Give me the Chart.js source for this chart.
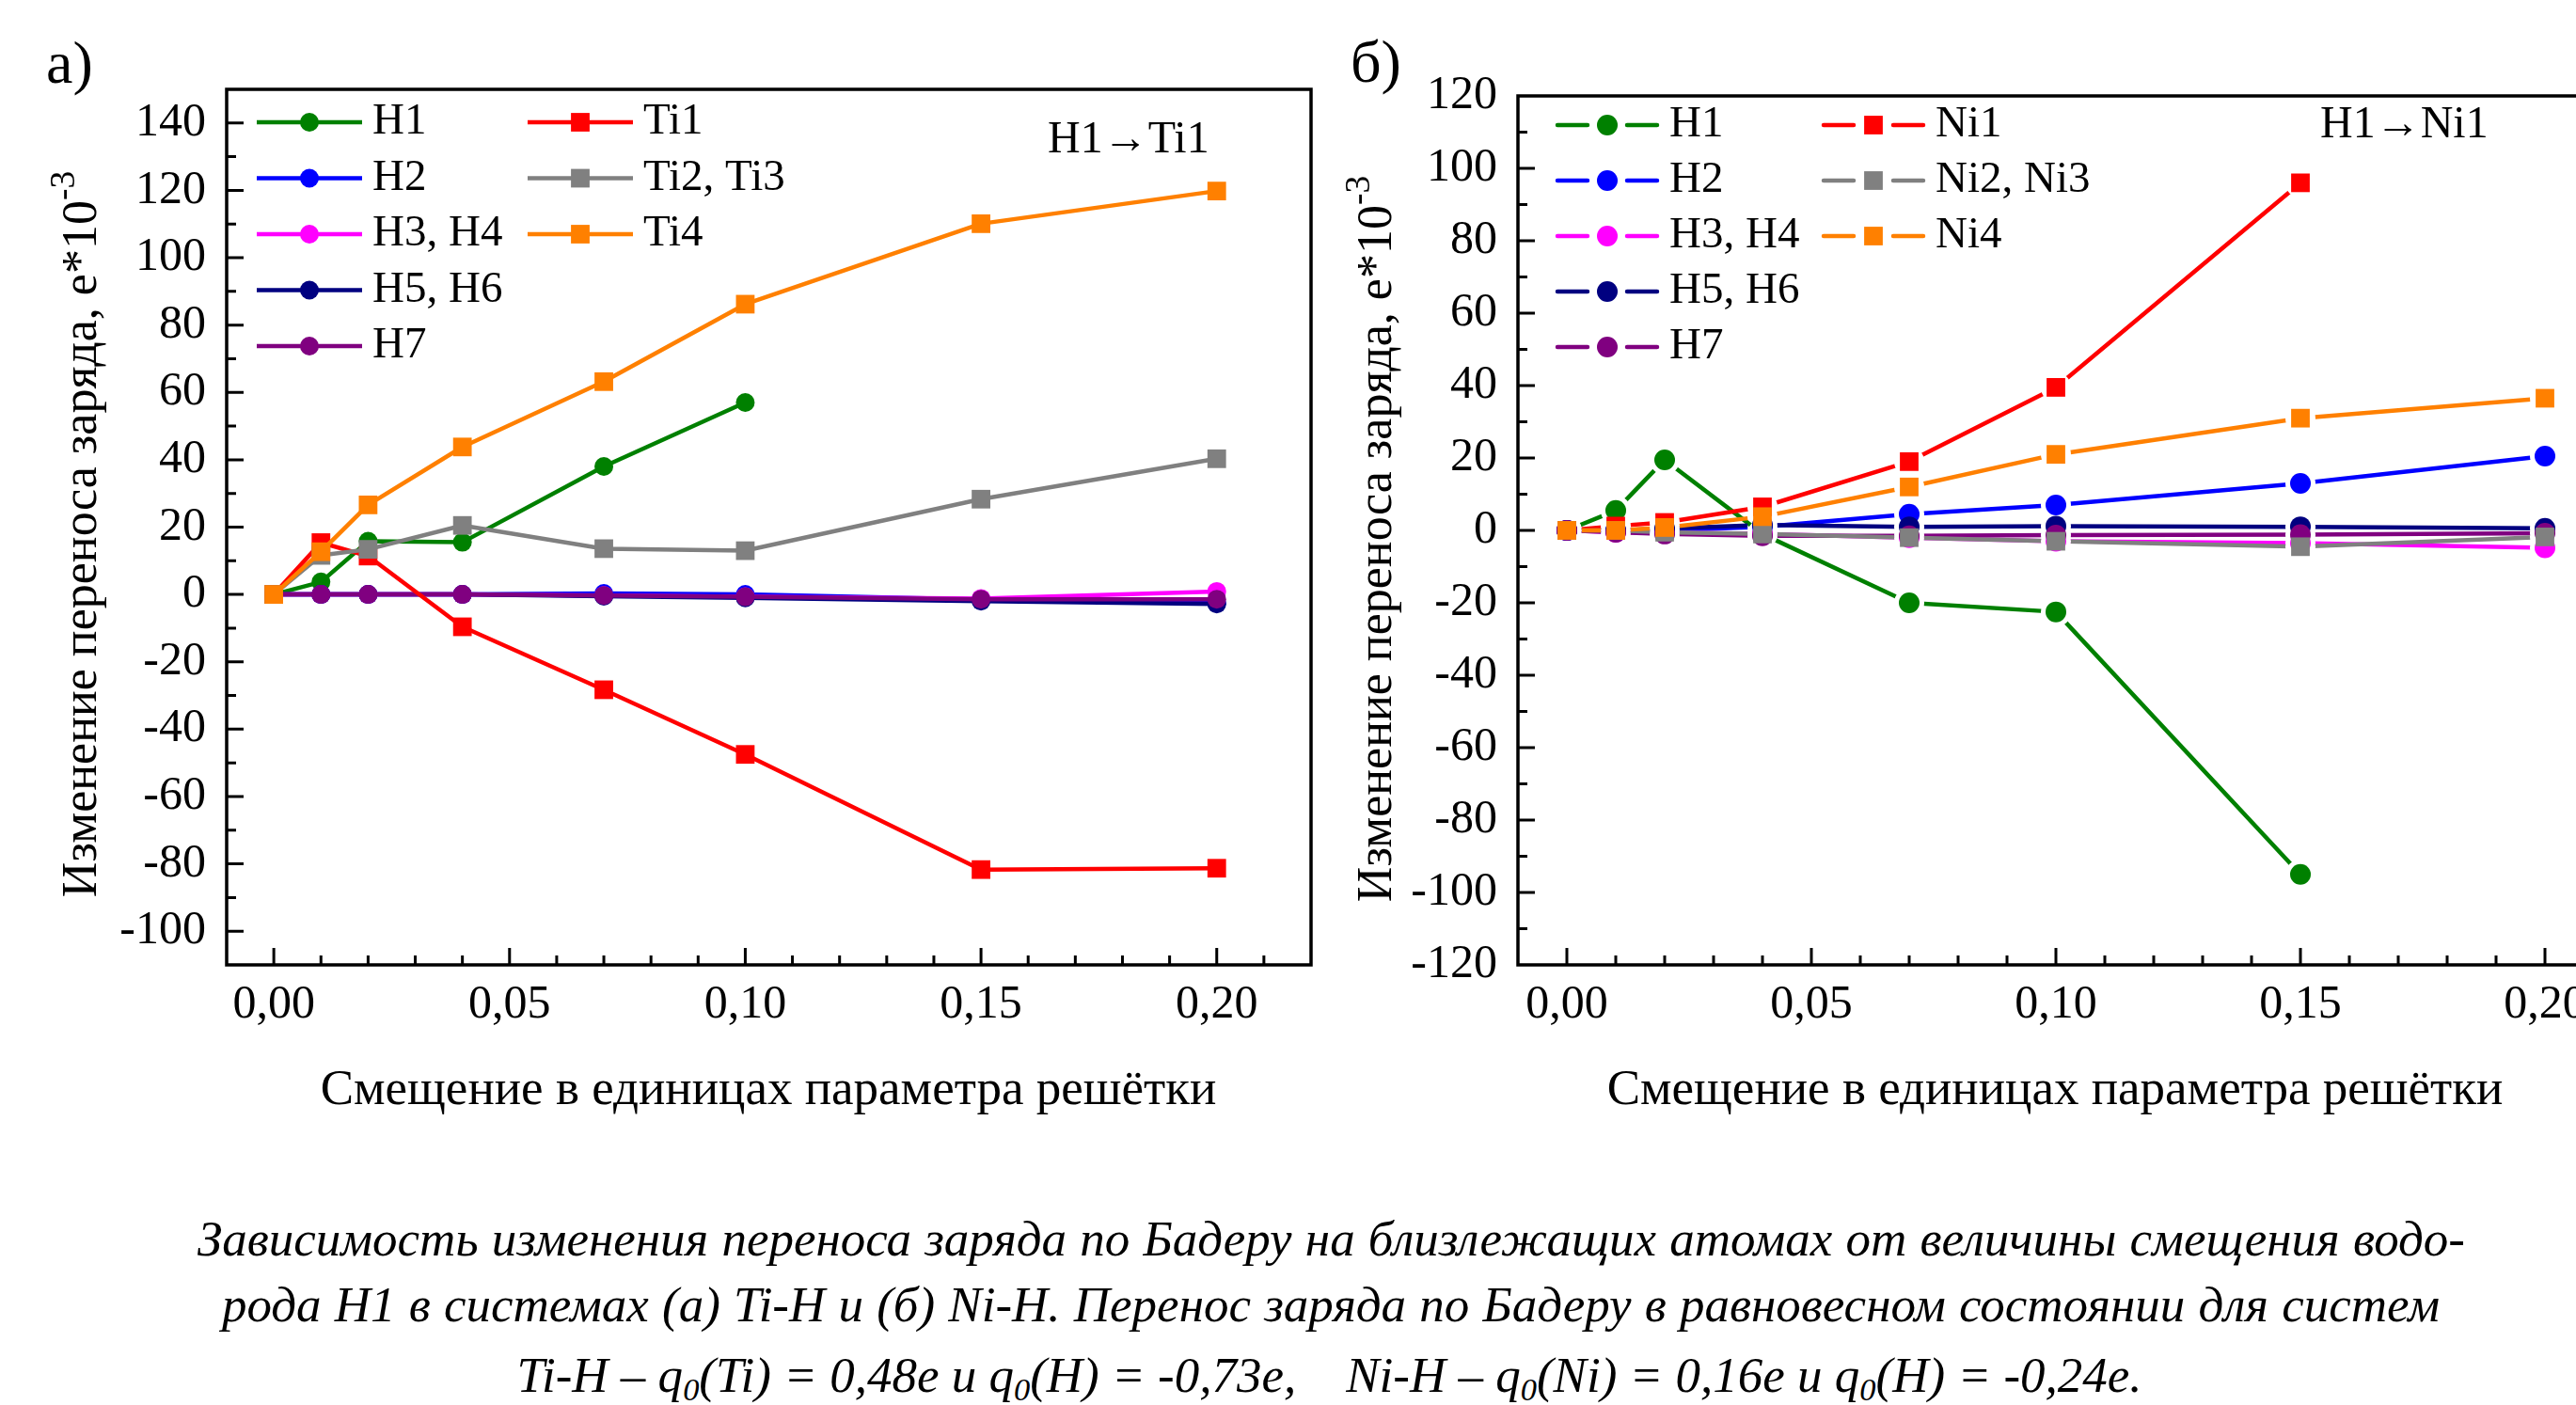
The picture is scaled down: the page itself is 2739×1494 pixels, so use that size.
<!DOCTYPE html>
<html>
<head>
  <meta charset="UTF-8" />
  <title>Bader charge transfer</title>
  <script src="https://cdn.jsdelivr.net/npm/chart.js"></script>
  <style>
    html, body { margin: 0; padding: 0; background: #fff; overflow: hidden; }
    #page { position: relative; width: 2739px; height: 1494px; overflow: hidden; background: #fff;
            font-family: "Liberation Serif", "Times New Roman", serif; color: #000; }
    canvas { position: absolute; top: 0; }
    .t { position: absolute; white-space: nowrap; line-height: 1; }
    .ytitle { font-size: 52px; transform: translate(-50%, -50%) rotate(-90deg); }
    .ytitle sup { font-size: 0.72em; line-height: 0; vertical-align: 0.62em; }
    .xtitle { font-size: 53px; transform: translateX(-50%); }
    .panel { font-size: 64px; }
    .note { font-size: 48px; }
    .cap { font-size: 53px; font-style: italic; }
    .cap sub { font-size: 0.65em; line-height: 0; vertical-align: -0.25em; }
    .just { text-align: justify; text-align-last: justify; }
  </style>
</head>
<body>
<div id="page">
  <canvas id="chartTi" width="1440" height="1100" style="left:0"></canvas>
  <canvas id="chartNi" width="1420" height="1100" style="left:1380px"></canvas>

  <div class="t panel" style="left:49px; top:35px">а)</div>
  <div class="t panel" style="left:1436px; top:34px">б)</div>
  <div class="t note" style="left:1114px; top:122px">H1→Ti1</div>
  <div class="t note" style="left:2467px; top:106px">H1→Ni1</div>

  <div class="t ytitle" style="left:85px; top:568px">Изменение переноса заряда, е*10<sup>-3</sup></div>
  <div class="t ytitle" style="left:1462px; top:573px">Изменение переноса заряда, е*10<sup>-3</sup></div>
  <div class="t xtitle" style="left:817px; top:1130px">Смещение в единицах параметра решётки</div>
  <div class="t xtitle" style="left:2185px; top:1130px">Смещение в единицах параметра решётки</div>

  <div class="t cap just" style="left:210px; width:2411px; top:1291px">Зависимость изменения переноса заряда по Бадеру на близлежащих атомах от величины смещения водо-</div>
  <div class="t cap just" style="left:236px; width:2358px; top:1361px">рода Н1 в системах (а) Ti-H и (б) Ni-H. Перенос заряда по Бадеру в равновесном состоянии для систем</div>
  <div class="t cap" style="left:547px; width:1733px; top:1436px; text-align:center">Ti-H – q<sub>0</sub>(Ti) = 0,48е и q<sub>0</sub>(H) = -0,73е,&nbsp;&nbsp;&nbsp;&nbsp;Ni-H – q<sub>0</sub>(Ni) = 0,16е и q<sub>0</sub>(H) = -0,24е.</div>
</div>

<script>
  // displacement of H1, in lattice parameter units
  const shifts = [0, 0.01, 0.02, 0.04, 0.07, 0.10, 0.15, 0.20];
  const xTicks = [0, 0.05, 0.10, 0.15, 0.20];
  const yTicksTi = [-100, -80, -60, -40, -20, 0, 20, 40, 60, 80, 100, 120, 140];
  const yTicksNi = [-120, -100, -80, -60, -40, -20, 0, 20, 40, 60, 80, 100, 120];

  const tiLabels = ['H1', 'H2', 'H3, H4', 'H5, H6', 'H7', 'Ti1', 'Ti2, Ti3', 'Ti4'];
  const niLabels = ['H1', 'H2', 'H3, H4', 'H5, H6', 'H7', 'Ni1', 'Ni2, Ni3', 'Ni4'];

  // (a) Ti-H, e*10^-3
  const tiH1   = [0, 3.7, 15.8, 15.5, 38, 57, null, null];
  const tiH2   = [0, 0, 0, 0, 0.3, 0, -1.5, -2.5];
  const tiH34  = [0, 0, 0, 0, -0.3, -0.7, -1.2, 0.9];
  const tiH56  = [0, 0, 0, 0, -0.5, -1, -2, -2.8];
  const tiH7   = [0, 0, 0, 0, -0.3, -0.7, -1.4, -1.4];
  const tiTi1  = [0, 15.4, 11.4, -9.6, -28.3, -47.5, -81.7, -81.3];
  const tiTi23 = [0, 11.6, 13.4, 20.5, 13.6, 13, 28.3, 40.3];
  const tiTi4  = [0, 12.7, 26.6, 43.8, 63.2, 86.2, 110.1, 119.8];

  // (б) Ni-H, e*10^-3
  const niH1   = [0, 5.5, 19.5, -1, -20, -22.5, -95, null];
  const niH2   = [0, 0, 0, 1, 4.5, 7, 13, 20.5];
  const niH34  = [0, -0.5, -0.5, -1, -2, -3, -3.5, -4.8];
  const niH56  = [0, 0, 0.5, 1.5, 1, 1.2, 1, 0.6];
  const niH7   = [0, -0.5, -1, -1.5, -1.5, -1.3, -1.2, -0.8];
  const niNi1  = [0, 1.2, 2.2, 6.5, 19, 39.5, 96, null];
  const niNi23 = [0, 0, -0.5, -1, -2, -3, -4.5, -1.8];
  const niNi4  = [0, 0, 0.8, 3.8, 12, 21, 31, 36.5];

  const colors = ['#008000', '#0000ff', '#ff00ff', '#000080', '#800080', '#ff0000', '#808080', '#ff8000'];
  const shapes = ['circle', 'circle', 'circle', 'circle', 'circle', 'rect', 'rect', 'rect'];

  const serif = 'Liberation Serif';

  function makeSets(labels, series, circleR) {
    return labels.map((lab, i) => ({
      label: lab,
      data: series[i].map((v, k) => ({ x: shifts[k], y: v })),
      borderColor: colors[i],
      backgroundColor: colors[i],
      borderWidth: 4.5,
      borderCapStyle: 'round',
      borderJoinStyle: 'round',
      pointStyle: shapes[i],
      pointRadius: shapes[i] === 'rect' ? 14 : circleR,
      pointBorderWidth: 0,
      pointBackgroundColor: colors[i],
      order: labels.length - 1 - i
    }));
  }

  // box round the plot plus inward major/minor ticks
  const framePlugin = {
    id: 'frame',
    afterDatasetsDraw(chart, args, o) {
      const { ctx, chartArea: a } = chart;
      const x = chart.scales.x, y = chart.scales.y;
      ctx.save();
      ctx.strokeStyle = '#000';
      ctx.lineWidth = 3.5;
      ctx.strokeRect(a.left, a.top, a.right - a.left, a.bottom - a.top);
      ctx.lineWidth = 3;
      ctx.beginPath();
      for (let k = 0; k <= o.xMinorCount; k++) {
        const v = k * 0.01;
        const major = xTicks.some(t => Math.abs(t - v) < 1e-9);
        const px = x.getPixelForValue(v);
        ctx.moveTo(px, a.bottom);
        ctx.lineTo(px, a.bottom - (major ? 18 : 10));
      }
      for (let v = o.yFrom; v <= o.yTo; v += 10) {
        const major = v % 20 === 0;
        const py = y.getPixelForValue(v);
        ctx.moveTo(a.left, py);
        ctx.lineTo(a.left + (major ? 18 : 10), py);
      }
      ctx.stroke();
      ctx.restore();
    }
  };

  // leave a small gap in each line round its own markers
  const gapPlugin = {
    id: 'gap',
    beforeDatasetDraw(chart, args, o) {
      if (!o.radius) return;
      const ctx = chart.ctx;
      ctx.save();
      ctx.beginPath();
      ctx.rect(0, 0, chart.width, chart.height);
      args.meta.data.forEach(p => {
        if (p.skip || isNaN(p.x) || isNaN(p.y)) return;
        ctx.moveTo(p.x + o.radius, p.y);
        ctx.arc(p.x, p.y, o.radius, 0, Math.PI * 2);
      });
      ctx.clip('evenodd');
    },
    afterDatasetDraw(chart, args, o) {
      if (!o.radius) return;
      chart.ctx.restore();
      args.meta.data.forEach(p => { if (!p.skip) p.draw(chart.ctx, chart.chartArea); });
    }
  };

  // two-column legend inside the plot
  const keyPlugin = {
    id: 'key',
    afterDraw(chart, args, o) {
      const ctx = chart.ctx;
      chart.data.datasets.forEach((ds, i) => {
        const col = i < o.perCol ? 0 : 1;
        const row = i < o.perCol ? i : i - o.perCol;
        const x0 = o.cols[col];
        const y = o.top + row * o.step;
        const mx = x0 + o.len / 2;
        ctx.save();
        ctx.strokeStyle = ds.borderColor;
        ctx.lineWidth = ds.borderWidth;
        ctx.lineCap = o.gap ? 'round' : 'butt';
        ctx.beginPath();
        if (o.gap) {
          ctx.moveTo(x0, y); ctx.lineTo(mx - o.gap, y);
          ctx.moveTo(mx + o.gap, y); ctx.lineTo(x0 + o.len, y);
        } else {
          ctx.moveTo(x0, y); ctx.lineTo(x0 + o.len, y);
        }
        ctx.stroke();
        ctx.fillStyle = ds.backgroundColor;
        if (ds.pointStyle === 'rect') {
          const h = ds.pointRadius * Math.SQRT1_2;
          ctx.fillRect(mx - h, y - h, 2 * h, 2 * h);
        } else {
          ctx.beginPath();
          ctx.arc(mx, y, ds.pointRadius, 0, Math.PI * 2);
          ctx.fill();
        }
        ctx.fillStyle = '#000';
        ctx.font = '47px "' + serif + '"';
        ctx.textAlign = 'left';
        ctx.textBaseline = 'middle';
        ctx.fillText(ds.label, x0 + o.len + o.pad, y);
        ctx.restore();
      });
    }
  };

  function makeOptions(c) {
    return {
      responsive: false,
      animation: false,
      events: [],
      layout: { padding: { left: 0, top: c.top, right: c.right, bottom: 0 } },
      plugins: {
        legend: { display: false },
        tooltip: { enabled: false },
        key: c.key,
        gap: { radius: c.gap },
        frame: c.frame
      },
      scales: {
        x: {
          type: 'linear',
          min: -0.01,
          max: c.xMax,
          grid: { display: false, drawTicks: false },
          border: { display: false },
          afterBuildTicks: s => { s.ticks = xTicks.map(v => ({ value: v })); },
          afterFit: s => { s.height = 74; },
          ticks: {
            font: { family: serif, size: 50 },
            color: '#000',
            padding: 13,
            maxRotation: 0,
            autoSkip: false,
            callback: v => v.toFixed(2).replace('.', ',')
          }
        },
        y: {
          min: c.yMin,
          max: c.yMax,
          grid: { display: false, drawTicks: false },
          border: { display: false },
          afterBuildTicks: s => { s.ticks = c.yTicks.map(v => ({ value: v })); },
          afterFit: s => { s.width = c.yW; },
          ticks: {
            font: { family: serif, size: 50 },
            color: '#000',
            padding: 22,
            autoSkip: false,
            callback: v => String(v)
          }
        }
      }
    };
  }

  new Chart(document.getElementById('chartTi'), {
    type: 'line',
    data: { datasets: makeSets(tiLabels, [tiH1, tiH2, tiH34, tiH56, tiH7, tiTi1, tiTi23, tiTi4], 10) },
    options: makeOptions({
      top: 95, right: 46, yW: 241, xMax: 0.22, yMin: -110, yMax: 150, yTicks: yTicksTi, gap: 0,
      key: { cols: [273, 561], len: 112, pad: 11, top: 130, step: 59.5, perCol: 5, gap: 0 },
      frame: { xMinorCount: 21, yFrom: -100, yTo: 140 }
    }),
    plugins: [gapPlugin, framePlugin, keyPlugin]
  });

  new Chart(document.getElementById('chartNi'), {
    type: 'line',
    data: { datasets: makeSets(niLabels, [niH1, niH2, niH34, niH56, niH7, niNi1, niNi23, niNi4], 11) },
    options: makeOptions({
      top: 102, right: 42, yW: 234, xMax: 0.21, yMin: -120, yMax: 120, yTicks: yTicksNi, gap: 16,
      key: { cols: [276, 559], len: 106, pad: 13, top: 133, step: 59, perCol: 5, gap: 21 },
      frame: { xMinorCount: 20, yFrom: -110, yTo: 110 }
    }),
    plugins: [gapPlugin, framePlugin, keyPlugin]
  });
</script>
</body>
</html>
